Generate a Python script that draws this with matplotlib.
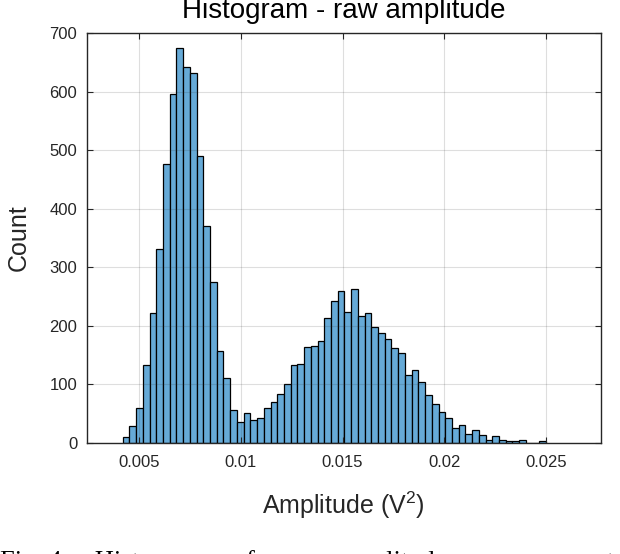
import matplotlib
matplotlib.use('Agg')
import matplotlib.pyplot as plt
import numpy as np

plt.rcParams['font.family'] = ['Liberation Sans', 'DejaVu Sans']
plt.rcParams['mathtext.fontset'] = 'custom'
plt.rcParams['mathtext.rm'] = 'Liberation Sans'

# histogram
bin_start = 0.0042
bin_width = 0.00033
counts = [10, 29, 59, 133, 221, 332, 476, 597, 675, 643,
          632, 491, 371, 275, 156, 110, 56, 36, 51, 38,
          42, 59, 70, 84, 100, 133, 135, 163, 165, 174,
          213, 242, 260, 224, 262, 217, 221, 197, 187, 177,
          162, 153, 115, 124, 103, 81, 67, 52, 43, 25,
          31, 15, 22, 13, 4, 11, 5, 3, 3, 5,
          0, 0, 3]
xticks = [0.005, 0.01, 0.015, 0.02, 0.025]
xtick_labels = ['0.005', '0.01', '0.015', '0.02', '0.025']
yticks = [0, 100, 200, 300, 400, 500, 600, 700]

edges = bin_start + bin_width * np.arange(len(counts) + 1)
dark = (0.15, 0.15, 0.15)

fig = plt.figure(figsize=(6.2, 5.54), dpi=100)
ax = fig.add_axes([0.1398, 0.2009, 0.8295, 0.7390])

ax.hist(edges[:-1], bins=edges, weights=counts,
        facecolor=(0.4, 0.668, 0.845), edgecolor='black', linewidth=0.9)

ax.set_xlim(0.002432, 0.027686)
ax.set_ylim(0, 700)
ax.set_xticks(xticks)
ax.set_xticklabels(xtick_labels)
ax.set_yticks(yticks)

ax.grid(True, color=dark, alpha=0.15, linewidth=0.8)
ax.set_axisbelow(False)

for s in ax.spines.values():
    s.set_color(dark)
    s.set_linewidth(1.0)
ax.tick_params(direction='in', length=4, width=0.8, color=dark,
               labelcolor=dark, labelsize=12, top=True, right=True)
ax.tick_params(axis='x', pad=8.5)
ax.tick_params(axis='y', pad=6.8)

ax.set_title('Histogram - raw amplitude', fontsize=20, pad=11)
ax.set_xlabel(r'Amplitude (V$\mathregular{^2}$)', fontsize=18, color=dark)
ax.set_ylabel('Count', fontsize=18, color=dark)
ax.xaxis.set_label_coords(0.5, -0.115)
ax.yaxis.set_label_coords(-0.108, 0.5)

# caption of the paper, mostly cut off at the bottom edge
fig.text(0.0, -0.026,
         'Fig. 4.    Histogram    of    raw   amplitude    measurements    and',
         family=['Liberation Serif', 'DejaVu Serif'], fontsize=19,
         ha='left', va='baseline')

fig.savefig('out.png', dpi=100)
